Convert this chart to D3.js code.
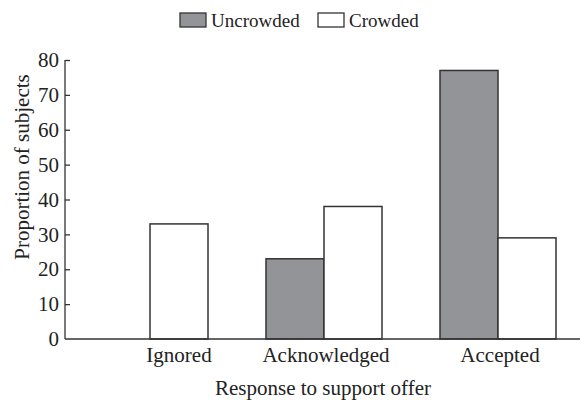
<!DOCTYPE html>
<html>
<head>
<meta charset="utf-8">
<script src="https://cdn.jsdelivr.net/npm/d3@7"></script>
<style>
  body { margin: 0; background: #fff; }
  text { font-family: "Liberation Serif", "DejaVu Serif", serif; fill: #222; }
</style>
</head>
<body>
<svg id="mainsvg" width="580" height="400"></svg>
<script>
const categories = ['Ignored', 'Acknowledged', 'Accepted'];
const series = ['Uncrowded', 'Crowded'];
const uncrowded = [0, 23, 77];
const crowded = [33, 38, 29];
const yTicks = [0, 10, 20, 30, 40, 50, 60, 70, 80];

const fills = { 'Uncrowded': '#939498', 'Crowded': '#ffffff' };
// label nudges as printed in the original figure
const labelShift = { 'Ignored': 29, 'Acknowledged': 2, 'Accepted': 2 };

const svg = d3.select('#mainsvg');
const rows = categories.map((c, i) => ({ cat: c, Uncrowded: uncrowded[i], Crowded: crowded[i] }));

const axisX = 65;
const baseY = 339;

const xScale = d3.scaleBand()
  .domain(categories)
  .range([92, 556])
  .paddingInner(1 / 3)
  .paddingOuter(0);
const xSub = d3.scaleBand()
  .domain(series)
  .range([0, xScale.bandwidth()]);
const yScale = d3.scaleLinear()
  .domain([0, 80])
  .range([baseY, 60]);

// bars
const groups = svg.append('g').selectAll('g')
  .data(rows)
  .join('g')
  .attr('transform', d => `translate(${xScale(d.cat)},0)`);

groups.selectAll('rect')
  .data(d => series.map(s => ({ key: s, value: d[s] })))
  .join('rect')
  .attr('x', d => xSub(d.key))
  .attr('y', d => yScale(d.value))
  .attr('width', xSub.bandwidth())
  .attr('height', d => baseY - yScale(d.value))
  .attr('fill', d => fills[d.key])
  .attr('stroke', '#333')
  .attr('stroke-width', 1.5);

// y axis, ticks pointing inward
const yAxis = d3.axisLeft(yScale)
  .tickValues(yTicks)
  .tickSize(-5)
  .tickPadding(6);
const yg = svg.append('g')
  .attr('transform', `translate(${axisX},0)`)
  .call(yAxis);
yg.select('.domain').remove();
yg.selectAll('.tick line').attr('stroke', '#333').attr('stroke-width', 1.3);
yg.selectAll('.tick').filter(d => d === 0).select('line').remove();
yg.selectAll('text')
  .style('font-family', '"Liberation Serif", serif')
  .style('font-size', '21px')
  .attr('fill', '#222');
yg.append('path')
  .attr('d', `M0,${yScale(80)}V${baseY}`)
  .attr('fill', 'none')
  .attr('stroke', '#333')
  .attr('stroke-width', 1.3);

// x axis
svg.append('line')
  .attr('x1', axisX).attr('x2', 580)
  .attr('y1', baseY).attr('y2', baseY)
  .attr('stroke', '#333')
  .attr('stroke-width', 1.3);

const xAxis = d3.axisBottom(xScale).tickSize(0).tickPadding(8);
const xg = svg.append('g')
  .attr('transform', `translate(0,${baseY})`)
  .call(xAxis);
xg.select('.domain').remove();
xg.selectAll('text')
  .style('font-family', '"Liberation Serif", serif')
  .style('font-size', '21px')
  .attr('fill', '#222')
  .attr('dx', d => labelShift[d]);

// axis titles
svg.append('text')
  .text('Response to support offer')
  .attr('x', 323)
  .attr('y', 395)
  .attr('text-anchor', 'middle')
  .style('font-size', '21px');

svg.append('text')
  .text('Proportion of subjects')
  .attr('transform', `translate(29,167) rotate(-90)`)
  .attr('text-anchor', 'middle')
  .style('font-size', '21px');

// legend
const legend = svg.append('g');
const legendX = [180, 318];
series.forEach((s, i) => {
  legend.append('rect')
    .attr('x', legendX[i]).attr('y', 13)
    .attr('width', 26).attr('height', 14)
    .attr('fill', fills[s])
    .attr('stroke', '#333')
    .attr('stroke-width', 1.3);
  legend.append('text')
    .text(s)
    .attr('x', legendX[i] + 31)
    .attr('y', 27)
    .style('font-size', '19px');
});
</script>
</body>
</html>
